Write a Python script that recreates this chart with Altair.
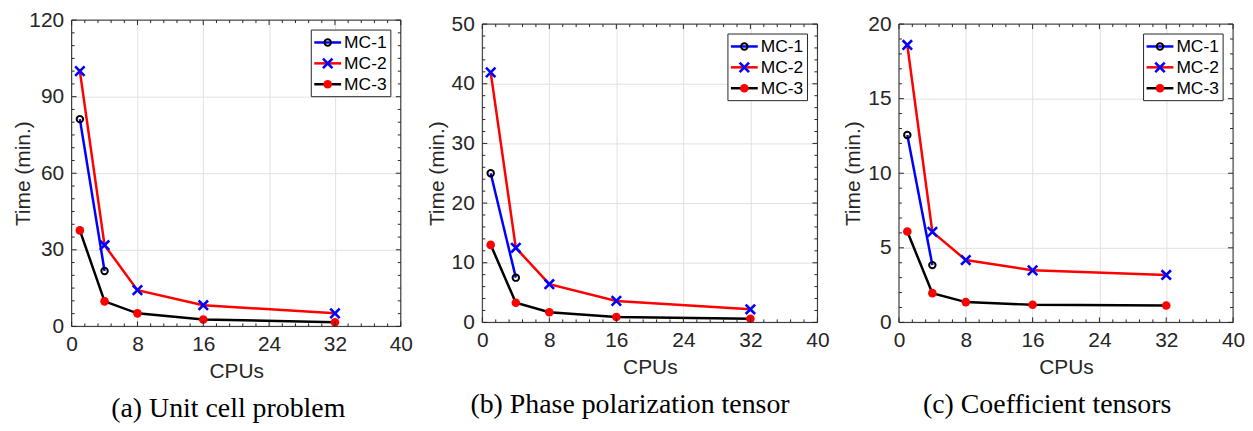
import altair as alt
import pandas as pd

# ---------------- data ----------------
series = ["MC-1", "MC-2", "MC-3"]
cpus = [1, 4, 8, 16, 32]
cpus_mc1 = [1, 4]

a_mc1 = [81.2, 21.7]
a_mc2 = [100.0, 31.8, 14.2, 8.3, 5.1]
a_mc3 = [37.6, 9.8, 5.1, 2.7, 1.6]

b_mc1 = [25.0, 7.5]
b_mc2 = [41.9, 12.5, 6.4, 3.6, 2.2]
b_mc3 = [13.0, 3.3, 1.7, 0.9, 0.6]

c_mc1 = [12.56, 3.84]
c_mc2 = [18.6, 6.07, 4.18, 3.49, 3.18]
c_mc3 = [6.09, 1.96, 1.36, 1.18, 1.13]

captions = ["(a) Unit cell problem", "(b) Phase polarization tensor", "(c) Coefficient tensors"]
x_ticks = [0, 8, 16, 24, 32, 40]

line_colors = {"MC-1": "#0000ff", "MC-2": "#ff0000", "MC-3": "#000000"}
AX = "#262626"
FONT = "Liberation Sans"
XSHAPE = "M-1,-1L1,1M-1,1L1,-1"


def make_df(mc1, mc2, mc3):
    rows = []
    for c, v in zip(cpus_mc1, mc1):
        rows.append({"cpus": c, "time": v, "series": "MC-1"})
    for c, v in zip(cpus, mc2):
        rows.append({"cpus": c, "time": v, "series": "MC-2"})
    for c, v in zip(cpus, mc3):
        rows.append({"cpus": c, "time": v, "series": "MC-3"})
    return pd.DataFrame(rows)


def panel(df, W, H, ymax, ystep, nminor_y, caption, cap_dx, ytitle_pad):
    xscale = alt.Scale(domain=[0, 40], nice=False, zero=False)
    yscale = alt.Scale(domain=[0, ymax], nice=False, zero=False)
    y_major = [ystep * i for i in range(int(round(ymax / ystep)) + 1)]
    ymin_step = ystep / nminor_y
    y_minor = [round(ymin_step * i, 6) for i in range(int(round(ymax / ymin_step)) + 1)]
    x_minor = [round(1.6 * i, 6) for i in range(26)]

    base = alt.Chart(df)
    X = alt.X("cpus:Q", scale=xscale, axis=alt.Axis(
        values=x_ticks, title="CPUs", grid=True, ticks=False, domain=False,
        labelFlush=False, labelPadding=7, titlePadding=6, labelOverlap=False,
        titleFontWeight="normal"))
    Y = alt.Y("time:Q", scale=yscale, axis=alt.Axis(
        values=y_major, title="Time (min.)", grid=True, ticks=False, domain=False,
        labelFlush=False, labelPadding=8, titlePadding=ytitle_pad, labelOverlap=False,
        titleFontWeight="normal"))

    layers = []
    # series
    for s in series:
        d = base.transform_filter(alt.datum.series == s)
        layers.append(d.mark_line(strokeWidth=2.5, color=line_colors[s]).encode(x=X, y=Y))
        if s == "MC-1":
            layers.append(d.mark_point(shape="circle", filled=False, color="black",
                                       strokeWidth=2, size=42, opacity=1).encode(x=X, y=Y))
        elif s == "MC-2":
            layers.append(d.mark_point(shape=XSHAPE, filled=False, color="#0000ff",
                                       strokeWidth=2.6, size=90, opacity=1).encode(x=X, y=Y))
        else:
            layers.append(d.mark_point(shape="circle", filled=True, color="#ff0000",
                                       size=75, opacity=1).encode(x=X, y=Y))

    # ticks (inward, all four sides)
    ty = pd.DataFrame({"time": y_minor,
                       "major": [any(abs(v - m) < 1e-6 for m in y_major) for v in y_minor]})
    tx = pd.DataFrame({"cpus": x_minor,
                       "major": [any(abs(v - m) < 1e-6 for m in x_ticks) for v in x_minor]})
    for major, ln in [(True, 5), (False, 3)]:
        dy = alt.Chart(ty).transform_filter(alt.datum.major == major)
        layers.append(dy.mark_rule(color=AX, strokeWidth=1).encode(y=Y, x=alt.value(0), x2=alt.value(ln)))
        layers.append(dy.mark_rule(color=AX, strokeWidth=1).encode(y=Y, x=alt.value(W), x2=alt.value(W - ln)))
        dx = alt.Chart(tx).transform_filter(alt.datum.major == major)
        layers.append(dx.mark_rule(color=AX, strokeWidth=1).encode(x=X, y=alt.value(H), y2=alt.value(H - ln)))
        layers.append(dx.mark_rule(color=AX, strokeWidth=1).encode(x=X, y=alt.value(0), y2=alt.value(ln)))

    # frame
    one = alt.Chart(pd.DataFrame({"k": [0]}))
    layers.append(one.mark_rect(fillOpacity=0, stroke=AX, strokeWidth=1).encode(
        x=alt.value(0), x2=alt.value(W), y=alt.value(0), y2=alt.value(H)))

    # legend box
    top = 10
    layers.append(one.mark_rect(fill="white", stroke=AX, strokeWidth=1).encode(
        x=alt.value(W - 90), x2=alt.value(W - 10), y=alt.value(top), y2=alt.value(top + 67)))
    for i, s in enumerate(series):
        ry = top + 12.5 + 21 * i
        layers.append(one.mark_rule(color=line_colors[s], strokeWidth=2.5).encode(
            x=alt.value(W - 87), x2=alt.value(W - 60), y=alt.value(ry)))
        if s == "MC-1":
            mk = one.mark_point(shape="circle", filled=False, color="black", strokeWidth=2, size=42, opacity=1)
        elif s == "MC-2":
            mk = one.mark_point(shape=XSHAPE, filled=False, color="#0000ff", strokeWidth=2.6, size=90, opacity=1)
        else:
            mk = one.mark_point(shape="circle", filled=True, color="#ff0000", size=75, opacity=1)
        layers.append(mk.encode(x=alt.value(W - 73.5), y=alt.value(ry)))
        layers.append(one.mark_text(align="left", baseline="middle", font=FONT, fontSize=17.5,
                                    color="black").encode(
            x=alt.value(W - 57), y=alt.value(ry + 1), text=alt.value(s)))

    return alt.layer(*layers).properties(
        width=W, height=H,
        title=alt.TitleParams(text=caption, orient="bottom", anchor="middle", frame="group",
                              font="Liberation Serif", fontSize=28, fontWeight="normal",
                              color="black", offset=14, dx=cap_dx),
    )


p1 = panel(make_df(a_mc1, a_mc2, a_mc3), 331, 308, 120, 30, 6, captions[0], -8, -5)
p2 = panel(make_df(b_mc1, b_mc2, b_mc3), 337, 300, 50, 10, 5, captions[1], -20, 4)
p3 = panel(make_df(c_mc1, c_mc2, c_mc3), 336, 300, 20, 5, 5, captions[2], -19, 4)

chart = alt.hconcat(p1, p2, p3, spacing=13, center=True).properties(
    padding={"left": 4, "top": 0, "right": 0, "bottom": 0}
).configure_view(stroke=None).configure_axis(
    labelFont=FONT, labelFontSize=21, labelColor=AX,
    titleFont=FONT, titleFontSize=21, titleColor=AX, titleFontWeight="normal",
    gridColor="#e1e1e1", gridWidth=1,
)

chart.save("out.html", embed_options={"renderer": "svg", "actions": False})
